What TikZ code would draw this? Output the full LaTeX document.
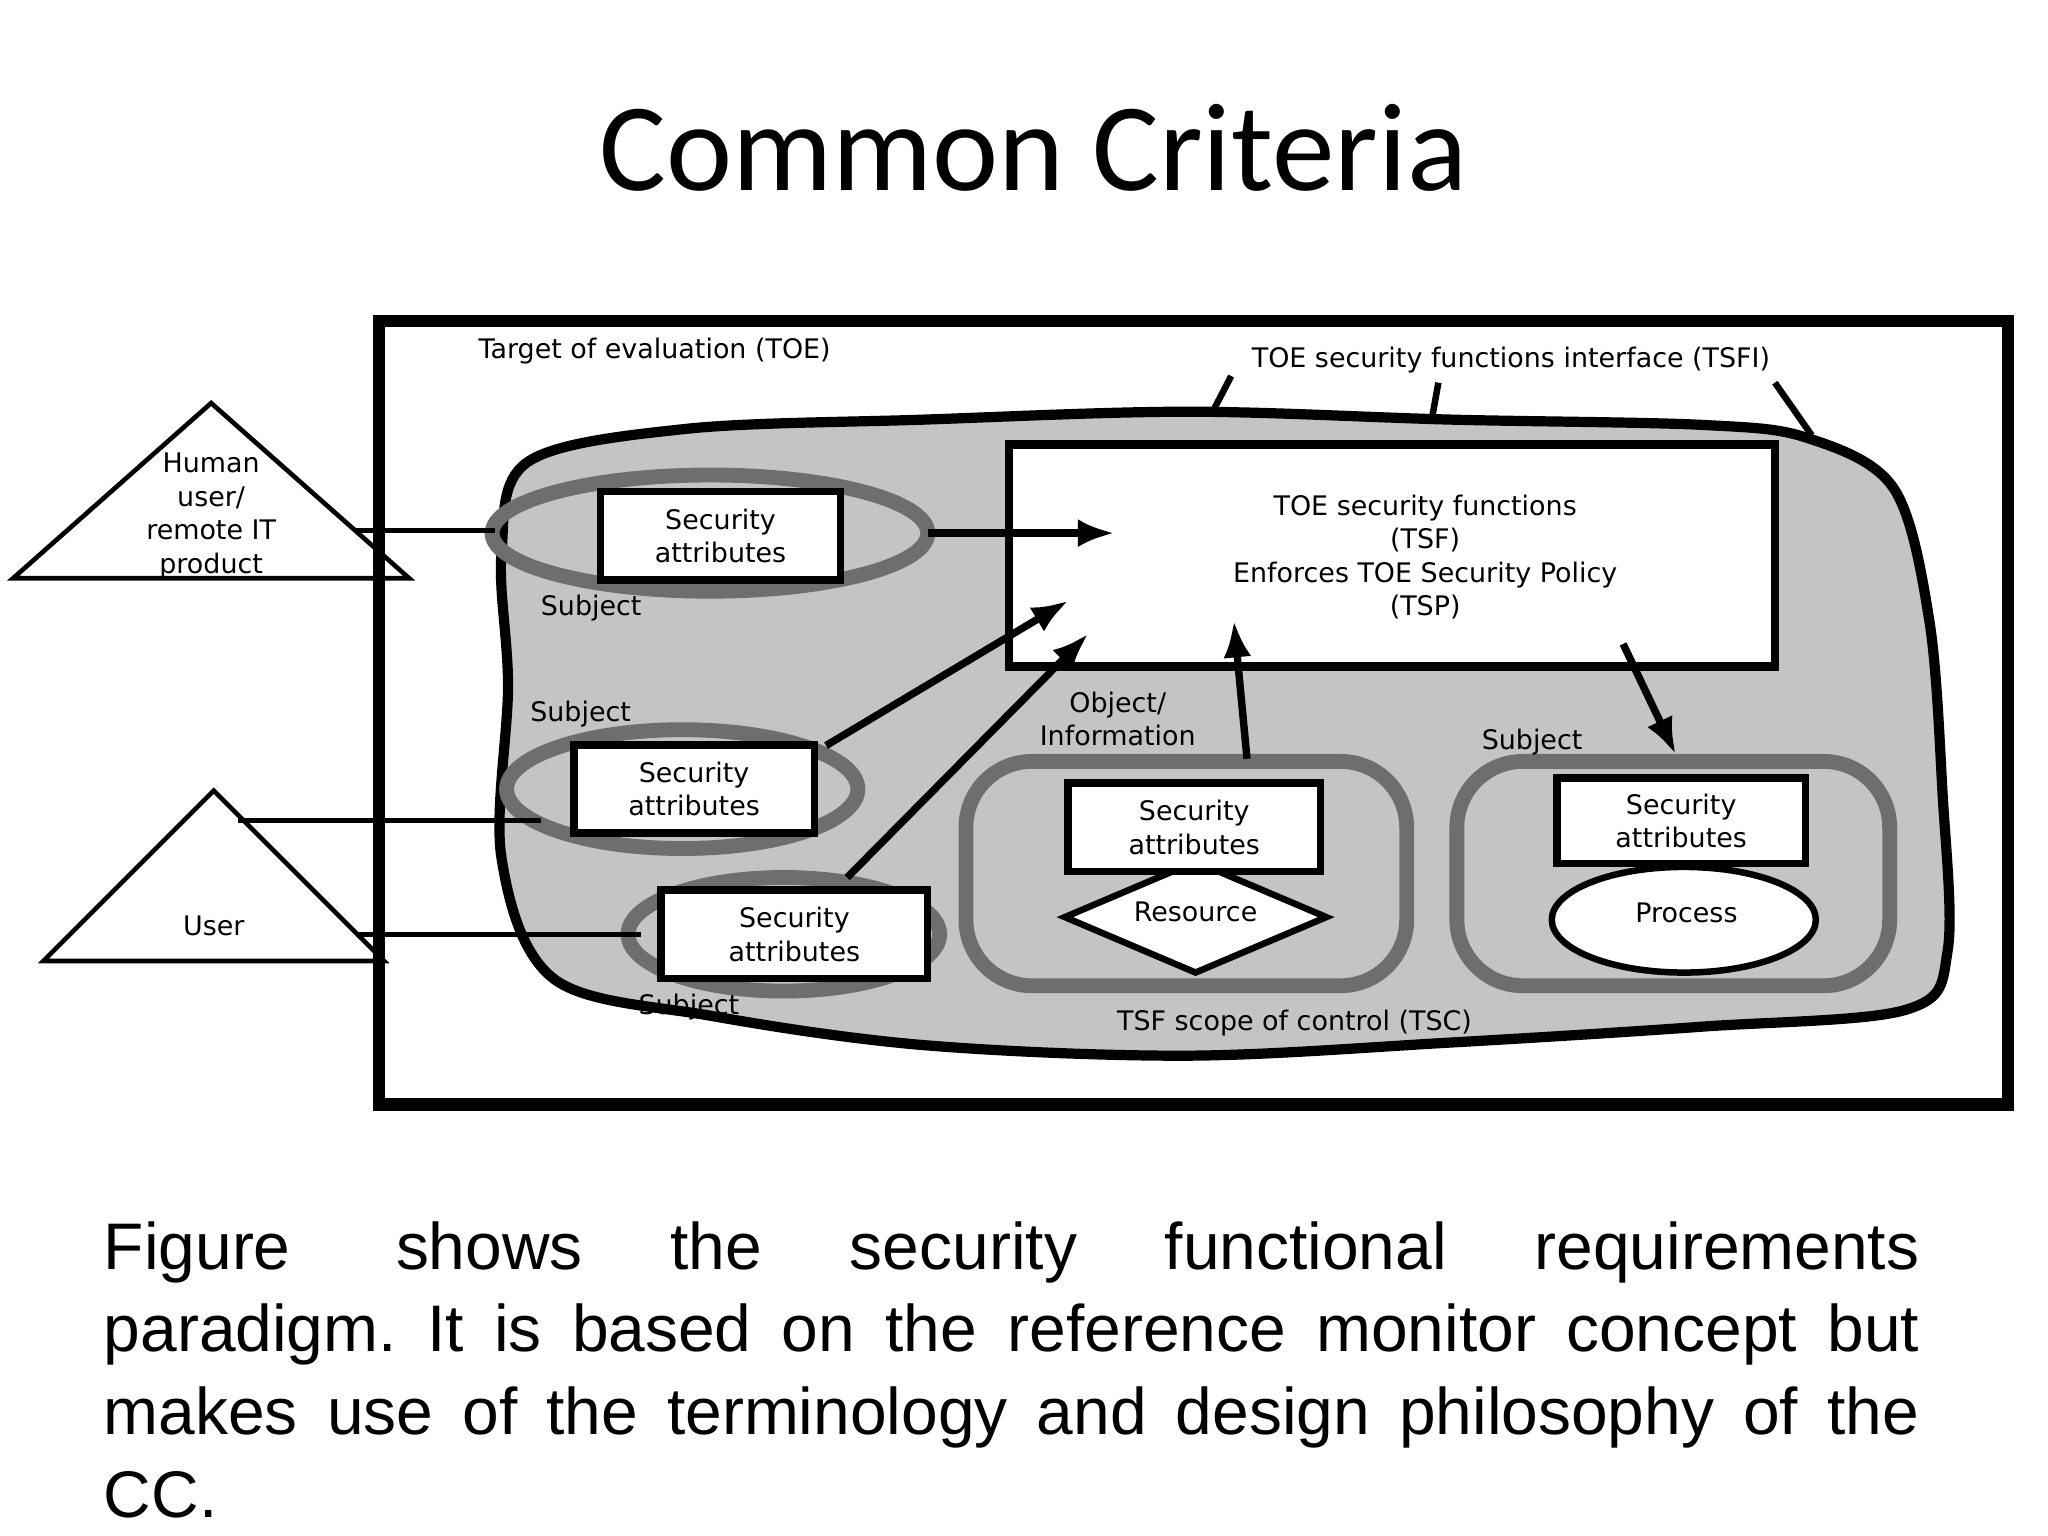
\documentclass[tikz,border=0pt]{standalone}
\usepackage{fontspec}
\setmainfont{Liberation Sans}
\newfontfamily\titlefont{Carlito}
\newfontfamily\figfont{DejaVu Sans}
\usetikzlibrary{shapes.geometric,arrows.meta}
\definecolor{blobgray}{RGB}{196,196,196}
\definecolor{ringgray}{RGB}{110,110,110}
\tikzset{
  lbl/.style={font=\figfont\fontsize{5.8}{7.2}\selectfont,align=center,inner sep=0pt},
  attr/.style={draw,line width=1.6pt,fill=white,minimum width=#1,minimum height=1.9em,
    font=\figfont\fontsize{5.8}{7.2}\selectfont,align=center,inner sep=0pt},
  ring/.style={draw=ringgray,line width=3.2pt},
  arr/.style={-{Latex[length=8pt,width=6pt]},line width=1.6pt},
}
\begin{document}
\frenchspacing
\begin{tikzpicture}[x=0.01cm,y=-0.01cm]
\useasboundingbox (0,0) rectangle (1552,1164);
\node[font=\titlefont\fontsize{27}{30}\selectfont] (title) at (783,112) {Common Criteria};
% outer frame
\draw[line width=2.6pt] (287,243) rectangle (1522,837);
\node[lbl,anchor=west] (toe) at (362,266) {Target of evaluation (TOE)};
\node[lbl] (tsfi) at (1145,273) {TOE security functions interface (TSFI)};
% grey scope blob
\draw[line width=2.2pt,fill=blobgray] plot[smooth cycle,tension=0.55] coordinates {
  (400,350) (520,325) (700,318) (900,312) (1100,318) (1290,322) (1370,332)
  (1435,370) (1462,470) (1472,600) (1476,720) (1445,765) (1290,778) (1100,790)
  (900,800) (700,792) (540,770) (420,742) (380,650) (385,520) (380,420)};
\draw[line width=1.4pt] (933,285) -- (920,310);
\draw[line width=1.4pt] (1090,290) -- (1085,318);
\draw[line width=1.4pt] (1345,290) -- (1373,330);
% TSF box
\node[draw,line width=1.8pt,fill=white,minimum width=5.8cm,minimum height=1.68cm] (tsf) at (1055,421) {};
\node[lbl] (tsftxt) at (1080,422) {TOE security functions\\(TSF)\\Enforces TOE Security Policy\\(TSP)};
\coordinate (tsfA) at (845,404);
\coordinate (tsfB) at (810,455);
\coordinate (tsfC) at (825,480);
\coordinate (tsfD) at (935,470);
\coordinate (tsfE) at (1230,488);
% users
\node[draw,isosceles triangle,shape border rotate=90,isosceles triangle apex angle=97,
  minimum width=3cm,inner sep=0pt,line width=1pt,anchor=south] (human) at (160,440) {};
\node[lbl] (humantxt) at (160,391) {Human\\user/\\remote IT\\product};
\node[draw,isosceles triangle,shape border rotate=90,isosceles triangle apex angle=90,
  minimum width=2.58cm,inner sep=0pt,line width=1pt,anchor=south] (user) at (162,730) {};
\node[lbl] (usertxt) at (162,702) {User};
% subjects
\node[ring,ellipse,minimum width=3.3cm,minimum height=0.88cm] (ring1) at (538,404) {};
\node[attr=1.82cm] (sa1) at (546,406) {Security\\attributes};
\node[lbl] (subj1) at (448,461) {Subject};
\node[ring,ellipse,minimum width=2.66cm,minimum height=0.9cm] (ring2) at (517,598) {};
\node[attr=1.82cm] (sa2) at (526,598) {Security\\attributes};
\node[lbl] (subj2) at (440,541) {Subject};
\node[ring,ellipse,minimum width=2.36cm,minimum height=0.86cm] (ring3) at (594,708) {};
\node[attr=2.02cm] (sa3) at (602,708) {Security\\attributes};
\node[lbl] (subj3) at (522,763) {Subject};
\coordinate (h1) at (375,402);
\coordinate (h2) at (410,622);
\coordinate (h3) at (486,708);
\draw[line width=1pt] (270,402) -- (h1);
\draw[line width=1pt] (180,622) -- (h2);
\draw[line width=1pt] (270,708) -- (h3);
% object
\draw[ring,rounded corners=0.5cm] (732,577) rectangle (1066,747);
\node[lbl] (objtxt) at (847,545) {Object/\\Information};
\node[draw,diamond,aspect=2.2,fill=white,line width=1.4pt,minimum width=2cm,minimum height=0.86cm,
  inner sep=0pt] (res) at (906,695) {};
\node[lbl] (restxt) at (906,691) {Resource};
\node[attr=1.91cm,minimum height=0.67cm] (sa4) at (905,627) {Security\\attributes};
% process subject
\draw[ring,rounded corners=0.5cm] (1104,577) rectangle (1432,747);
\node[lbl] (subj4) at (1161,562) {Subject};
\node[attr=1.88cm,minimum height=0.65cm] (sa5) at (1274,622) {Security\\attributes};
\node[draw,ellipse,fill=white,line width=1.4pt,minimum width=2cm,minimum height=0.8cm] (proc) at (1276,697) {};
\node[lbl] (proctxt) at (1278,692) {Process};
\node[lbl] (tsc) at (981,775) {TSF scope of control (TSC)};
% flows
\draw[arr] (703,404) -- (tsfA);
\draw[arr] (626,565) -- (tsfB);
\draw[arr] (642,665) -- (tsfC);
\draw[arr] (945,575) -- (tsfD);
\draw[arr] (tsfE) -- (1270,572);
% caption
\node[anchor=north west,inner sep=0pt,text width=13.75cm,align=justify,
  font=\fontsize{14.2}{17.8}\selectfont] (caption) at (78,925)
  {Figure\hspace{1.6em}shows the security functional requirements paradigm. It is based on the reference monitor concept but makes use of the terminology and design philosophy of the CC.};
\end{tikzpicture}
\end{document}
